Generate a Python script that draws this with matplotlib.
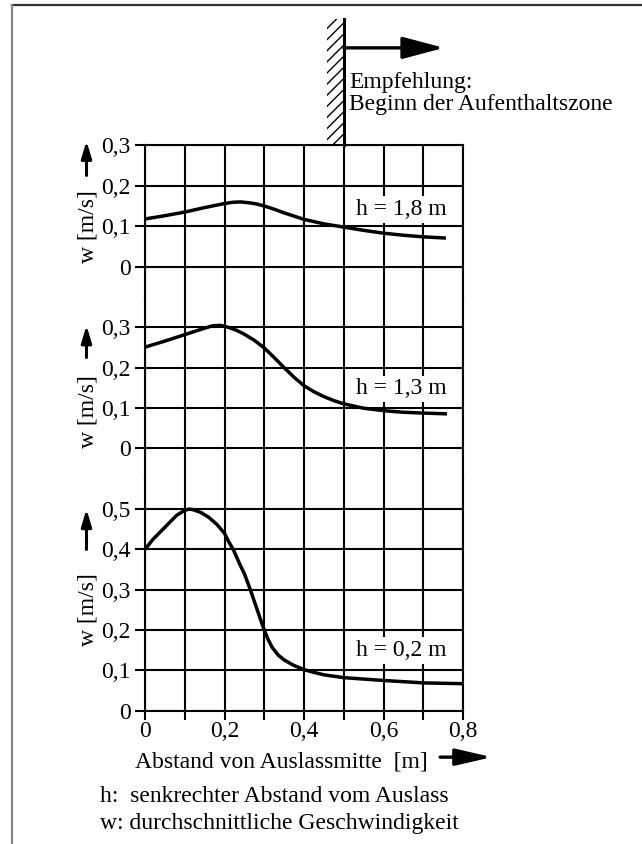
import matplotlib
matplotlib.use("Agg")
import matplotlib.pyplot as plt
from matplotlib.patches import Rectangle
from matplotlib.lines import Line2D

x_18 = [0, 0.05, 0.1, 0.15, 0.2, 0.22, 0.24, 0.26, 0.28, 0.3, 0.325, 0.35, 0.375, 0.4, 0.45, 0.5,
        0.55, 0.6, 0.65, 0.7, 0.757]
w_18 = [0.118, 0.126, 0.135, 0.146, 0.156, 0.159, 0.160, 0.158, 0.155, 0.150, 0.142, 0.133, 0.125, 0.117,
        0.106, 0.098, 0.090, 0.083, 0.078, 0.074, 0.071]

x_13 = [0, 0.05, 0.1, 0.15, 0.17, 0.19, 0.21, 0.23, 0.25, 0.275, 0.3, 0.325, 0.35, 0.375, 0.4, 0.425,
        0.45, 0.475, 0.5, 0.55, 0.6, 0.65, 0.7, 0.76]
w_13 = [0.251, 0.266, 0.282, 0.298, 0.304, 0.305, 0.300, 0.293, 0.283, 0.268, 0.249, 0.225, 0.200, 0.176,
        0.155, 0.140, 0.128, 0.118, 0.110, 0.099, 0.093, 0.089, 0.087, 0.085]

x_02 = [0, 0.02, 0.04, 0.06, 0.08, 0.1, 0.11, 0.12, 0.14, 0.16, 0.18, 0.2, 0.21, 0.222, 0.24, 0.25,
        0.265, 0.28, 0.29, 0.3, 0.31, 0.32, 0.335, 0.35, 0.373, 0.4, 0.425, 0.45, 0.5, 0.6, 0.7, 0.8]
w_02 = [0.40, 0.425, 0.445, 0.465, 0.485, 0.497, 0.50, 0.499, 0.492, 0.480, 0.463, 0.44, 0.42, 0.40, 0.36,
        0.34, 0.30, 0.257, 0.228, 0.20, 0.176, 0.157, 0.138, 0.126, 0.113, 0.102, 0.095, 0.089, 0.082,
        0.075, 0.069, 0.067]

x_ticks = [0, 0.1, 0.2, 0.3, 0.4, 0.5, 0.6, 0.7, 0.8]
x_labels = ["0", "", "0,2", "", "0,4", "", "0,6", "", "0,8"]
y_ticks_03 = [0, 0.1, 0.2, 0.3]
y_labels_03 = ["0", "0,1", "0,2", "0,3"]
y_ticks_05 = [0, 0.1, 0.2, 0.3, 0.4, 0.5]
y_labels_05 = ["0", "0,1", "0,2", "0,3", "0,4", "0,5"]

plt.rcParams.update({
    "font.family": ["Liberation Serif", "DejaVu Serif"],
    "font.size": 17,
    "hatch.linewidth": 1.0,
})

W, H = 642, 844
fig = plt.figure(figsize=(W / 100, H / 100), dpi=100)

LW = 1.5
FS = 17


def add_panel(top_px, bot_px, ylim, yticks, ylabels):
    # axes in Pixelkoordinaten angeben
    ax = fig.add_axes([145 / W, 1 - bot_px / H, 318 / W, (bot_px - top_px) / H])
    ax.set_xlim(0, 0.8)
    ax.set_ylim(*ylim)
    ax.set_xticks(x_ticks)
    ax.set_yticks(yticks)
    ax.set_yticklabels(ylabels, fontsize=FS)
    ax.grid(True, color="black", linewidth=LW)
    ax.set_axisbelow(True)
    ax.tick_params(axis="y", direction="out", length=7.5, width=LW, pad=3)
    ax.tick_params(axis="x", length=0, labelbottom=False)
    for s in ax.spines.values():
        s.set_linewidth(LW)
    ax.spines["top"].set_visible(False)
    ax.spines["bottom"].set_visible(False)
    return ax


ax1 = add_panel(145, 297, (-0.074, 0.3), y_ticks_03, y_labels_03)
ax2 = add_panel(297, 478.5, (-0.0757, 0.3756), y_ticks_03, y_labels_03)
ax3 = add_panel(478.5, 710.7, (0, 0.576), y_ticks_05, y_labels_05)
ax1.spines["top"].set_visible(True)
ax3.spines["bottom"].set_visible(True)
ax3.tick_params(axis="x", direction="out", length=6.5, width=LW, pad=1, labelbottom=True)
ax3.set_xticklabels(x_labels, fontsize=FS)

curve_kw = dict(color="black", linewidth=2.5, solid_joinstyle="round", solid_capstyle="butt", zorder=3)
ax1.plot(x_18, w_18, **curve_kw)
ax2.plot(x_13, w_13, **curve_kw)
ax3.plot(x_02, w_02, **curve_kw)

box = dict(facecolor="white", edgecolor="none", pad=2)
ax1.text(0.53, 0.142, "h = 1,8 m", ha="left", va="center", bbox=box, zorder=4, fontsize=FS)
ax2.text(0.53, 0.147, "h = 1,3 m", ha="left", va="center", bbox=box, zorder=4, fontsize=FS)
ax3.text(0.53, 0.149, "h = 0,2 m", ha="left", va="center", bbox=box, zorder=4, fontsize=FS)

# y-Achsenbeschriftung mit Pfeil
arrow_kw = dict(arrowstyle="-|>,head_length=0.6,head_width=0.18", color="black", lw=2.2,
                shrinkA=0, shrinkB=0)
for ax, y_lab, y_a0, y_a1 in [(ax1, 0.1, 0.225, 0.31), (ax2, 0.09, 0.225, 0.305), (ax3, 0.25, 0.40, 0.50)]:
    tr = ax.get_yaxis_transform()
    ax.text(-0.18, y_lab, "w [m/s]", rotation=90, ha="center", va="center", transform=tr, fontsize=FS)
    ax.annotate("", xy=(-0.184, y_a1), xytext=(-0.184, y_a0), xycoords=tr, textcoords=tr,
                arrowprops=arrow_kw, annotation_clip=False)

# Wand mit Schraffur und Pfeil
ax1.add_patch(Rectangle((0.457, 0.3), 0.043, 0.31, facecolor="none", edgecolor="black",
                        linewidth=0, hatch="///", clip_on=False))
ax1.plot([0.5, 0.5], [0.3, 0.61], color="black", linewidth=2.2, clip_on=False)
ax1.annotate("", xy=(0.752, 0.539), xytext=(0.5, 0.539),
             arrowprops=dict(arrowstyle="-|>,head_length=1.5,head_width=0.4", color="black",
                             lw=2.4, shrinkA=0, shrinkB=0), annotation_clip=False)
ax1.text(0.513, 0.427, "Empfehlung:\nBeginn der Aufenthaltszone", ha="left", va="center",
         linespacing=1.1, fontsize=FS)

# x-Achsenbeschriftung mit Pfeil
ax3.text(0.429, -0.221, "Abstand von Auslassmitte  [m]", ha="center", va="center",
         transform=ax3.transAxes, fontsize=FS)
ax3.annotate("", xy=(1.091, -0.2), xytext=(0.928, -0.2), xycoords="axes fraction",
             arrowprops=dict(arrowstyle="-|>,head_length=1.3,head_width=0.3", color="black",
                             lw=2.4, shrinkA=0, shrinkB=0), annotation_clip=False)

fig.text(100 / W, 1 - 797 / H, "h:  senkrechter Abstand vom Auslass", ha="left", va="center", fontsize=FS)
fig.text(100 / W, 1 - 824 / H, "w: durchschnittliche Geschwindigkeit", ha="left", va="center", fontsize=FS)

# Rahmen oben und links
fig.add_artist(Line2D([12 / W, 1], [1 - 5 / H, 1 - 5 / H], color="#333333", linewidth=1.6))
fig.add_artist(Line2D([12 / W, 12 / W], [0, 1 - 5 / H], color="#888888", linewidth=1.6))

fig.savefig("out.png", dpi=100)
